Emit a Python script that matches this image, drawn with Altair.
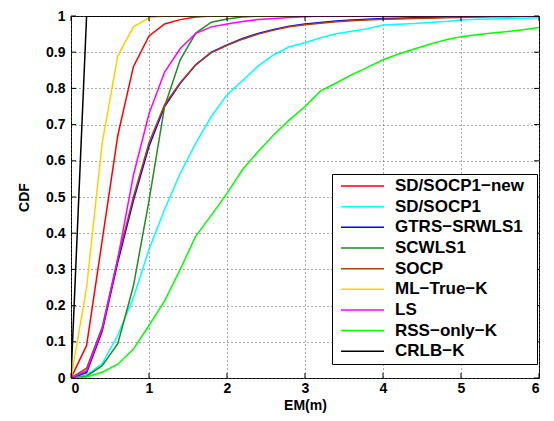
import altair as alt
import pandas as pd

# ---- data ----
x_vals = [0.0, 0.2, 0.4, 0.6, 0.8, 1.0, 1.2, 1.4, 1.6, 1.8, 2.0, 2.2, 2.4, 2.6, 2.8, 3.0,
          3.2, 3.4, 3.6, 3.8, 4.0, 4.2, 4.4, 4.6, 4.8, 5.0, 5.2, 5.4, 5.6, 5.8, 6.0]

series_names = ["SD/SOCP1\u2212new", "SD/SOCP1", "GTRS\u2212SRWLS1", "SCWLS1", "SOCP",
                "ML\u2212True\u2212K", "LS", "RSS\u2212only\u2212K", "CRLB\u2212K"]
series_colors = ["#FF0000", "#00FFFF", "#0000FF", "#228B22", "#B0400F",
                 "#FFD000", "#FF00FF", "#00FF00", "#000000"]

sd_socp1_new = [0, 0.09, 0.38, 0.67, 0.86, 0.945, 0.978, 0.99, 0.997, 1, 1, 1, 1, 1, 1, 1,
                1, 1, 1, 1, 1, 1, 1, 1, 1, 1, 1, 1, 1, 1, 1]
sd_socp1 = [0, 0.008, 0.04, 0.118, 0.222, 0.355, 0.466, 0.565, 0.649, 0.723, 0.782, 0.822,
            0.862, 0.893, 0.915, 0.926, 0.94, 0.951, 0.958, 0.965, 0.975, 0.977, 0.979, 0.982,
            0.985, 0.989, 0.991, 0.992, 0.993, 0.994, 0.995]
gtrs_srwls1 = [0, 0.015, 0.13, 0.32, 0.49, 0.64, 0.75, 0.814, 0.865, 0.9, 0.92, 0.938, 0.952,
               0.963, 0.972, 0.978, 0.982, 0.986, 0.989, 0.991, 0.993, 0.994, 0.995, 0.996,
               0.997, 0.998, 0.998, 0.999, 0.999, 1, 1]
scwls1 = [0, 0.005, 0.034, 0.095, 0.254, 0.49, 0.75, 0.879, 0.953, 0.983, 0.992, 0.997, 1, 1,
          1, 1, 1, 1, 1, 1, 1, 1, 1, 1, 1, 1, 1, 1, 1, 1, 1]
socp = [0, 0.027, 0.14, 0.33, 0.5, 0.65, 0.755, 0.816, 0.866, 0.899, 0.919, 0.936, 0.95, 0.961,
        0.97, 0.976, 0.98, 0.984, 0.987, 0.989, 0.991, 0.992, 0.993, 0.994, 0.995, 0.996, 0.997,
        0.998, 0.998, 0.999, 0.999]
ml_true_k = [0, 0.25, 0.65, 0.89, 0.97, 0.995, 1, 1, 1, 1, 1, 1, 1, 1, 1, 1, 1, 1, 1, 1, 1, 1,
             1, 1, 1, 1, 1, 1, 1, 1, 1]
ls = [0, 0.02, 0.135, 0.33, 0.56, 0.73, 0.845, 0.91, 0.952, 0.97, 0.978, 0.985, 0.99, 0.993,
      0.996, 0.998, 1, 1, 1, 1, 1, 1, 1, 1, 1, 1, 1, 1, 1, 1, 1]
rss_only_k = [0, 0.003, 0.016, 0.038, 0.08, 0.145, 0.213, 0.3, 0.392, 0.45, 0.51, 0.576, 0.626,
              0.672, 0.713, 0.75, 0.793, 0.815, 0.838, 0.858, 0.879, 0.895, 0.909, 0.922, 0.934,
              0.943, 0.948, 0.953, 0.957, 0.962, 0.968]
crlb_k = [0, 1, 1, 1, 1, 1, 1, 1, 1, 1, 1, 1, 1, 1, 1, 1, 1, 1, 1, 1, 1, 1, 1, 1, 1, 1, 1, 1,
          1, 1, 1]

x_ticks = [0, 1, 2, 3, 4, 5, 6]
y_ticks = [0, 0.1, 0.2, 0.3, 0.4, 0.5, 0.6, 0.7, 0.8, 0.9, 1]

all_series = [sd_socp1_new, sd_socp1, gtrs_srwls1, scwls1, socp, ml_true_k, ls, rss_only_k, crlb_k]

rows = []
for idx, (name, vals) in enumerate(zip(series_names, all_series)):
    for xv, yv in zip(x_vals, vals):
        rows.append({"method": name, "em": xv, "cdf": yv, "k": idx})
df = pd.DataFrame(rows)

FONT = "Liberation Sans"
W, H = 468, 362

x_scale = alt.Scale(domain=[0, 6], nice=False)
y_scale = alt.Scale(domain=[0, 1], nice=False)

x_axis = alt.Axis(values=x_ticks, title="EM(m)", grid=True, ticks=False, tickSize=0,
                  domain=False, labelPadding=3, titleY=20, titleBaseline="top")
y_axis = alt.Axis(values=y_ticks, title="CDF", grid=True, ticks=False, tickSize=0,
                  domain=False, labelPadding=6, format="~g",
                  titleX=-43, titleY=H / 2, titleAngle=-90,
                  titleBaseline="alphabetic", titleAlign="center")

lines = alt.Chart(df).mark_line(strokeWidth=1.5, clip=True).encode(
    x=alt.X("em:Q", scale=x_scale, axis=x_axis, title="EM(m)"),
    y=alt.Y("cdf:Q", scale=y_scale, axis=y_axis, title="CDF"),
    color=alt.Color("method:N", sort=series_names,
                    scale=alt.Scale(domain=series_names, range=series_colors),
                    legend=alt.Legend(title=None,
                                      orient="none", legendX=261, legendY=158,
                                      symbolType="stroke", symbolSize=1849,
                                      symbolStrokeWidth=1.5, labelFont=FONT,
                                      labelFontSize=17, labelFontWeight="bold",
                                      labelColor="black", padding=3, rowPadding=2.66,
                                      clipHeight=18, symbolOffset=5, labelOffset=10,
                                      labelExpr="datum.label + '\u00a0\u00a0\u200b'",
                                      strokeColor="black", fillColor="white")),
    detail="method:N",
)

xt = pd.DataFrame({"em": x_ticks})
yt = pd.DataFrame({"cdf": y_ticks})

tick_bottom = alt.Chart(xt).mark_rule(color="black", strokeWidth=1).encode(
    x=alt.X("em:Q", scale=x_scale, axis=x_axis, title="EM(m)"), y=alt.value(H), y2=alt.value(H - 5))
tick_top = alt.Chart(xt).mark_rule(color="black", strokeWidth=1).encode(
    x=alt.X("em:Q", scale=x_scale, axis=x_axis, title="EM(m)"), y=alt.value(0), y2=alt.value(5))
tick_left = alt.Chart(yt).mark_rule(color="black", strokeWidth=1).encode(
    y=alt.Y("cdf:Q", scale=y_scale, axis=y_axis, title="CDF"), x=alt.value(0), x2=alt.value(5))
tick_right = alt.Chart(yt).mark_rule(color="black", strokeWidth=1).encode(
    y=alt.Y("cdf:Q", scale=y_scale, axis=y_axis, title="CDF"), x=alt.value(W), x2=alt.value(W - 5))

chart = alt.layer(lines, tick_bottom, tick_top, tick_left, tick_right).properties(
    width=W, height=H,
    autosize=alt.AutoSizeParams(type="none"),
    padding={"left": 63, "top": 8, "right": 7, "bottom": 35},
    background="white",
).configure_view(
    stroke="black", strokeWidth=1
).configure_axis(
    gridColor="#555555", gridDash=[1, 3], gridWidth=1, gridOpacity=1,
    labelFont=FONT, labelFontSize=14, labelFontWeight="bold", labelColor="black",
    titleFont=FONT, titleFontSize=14, titleFontWeight="bold", titleColor="black",
)

chart.save("out.html", embed_options={"renderer": "svg", "actions": False})
